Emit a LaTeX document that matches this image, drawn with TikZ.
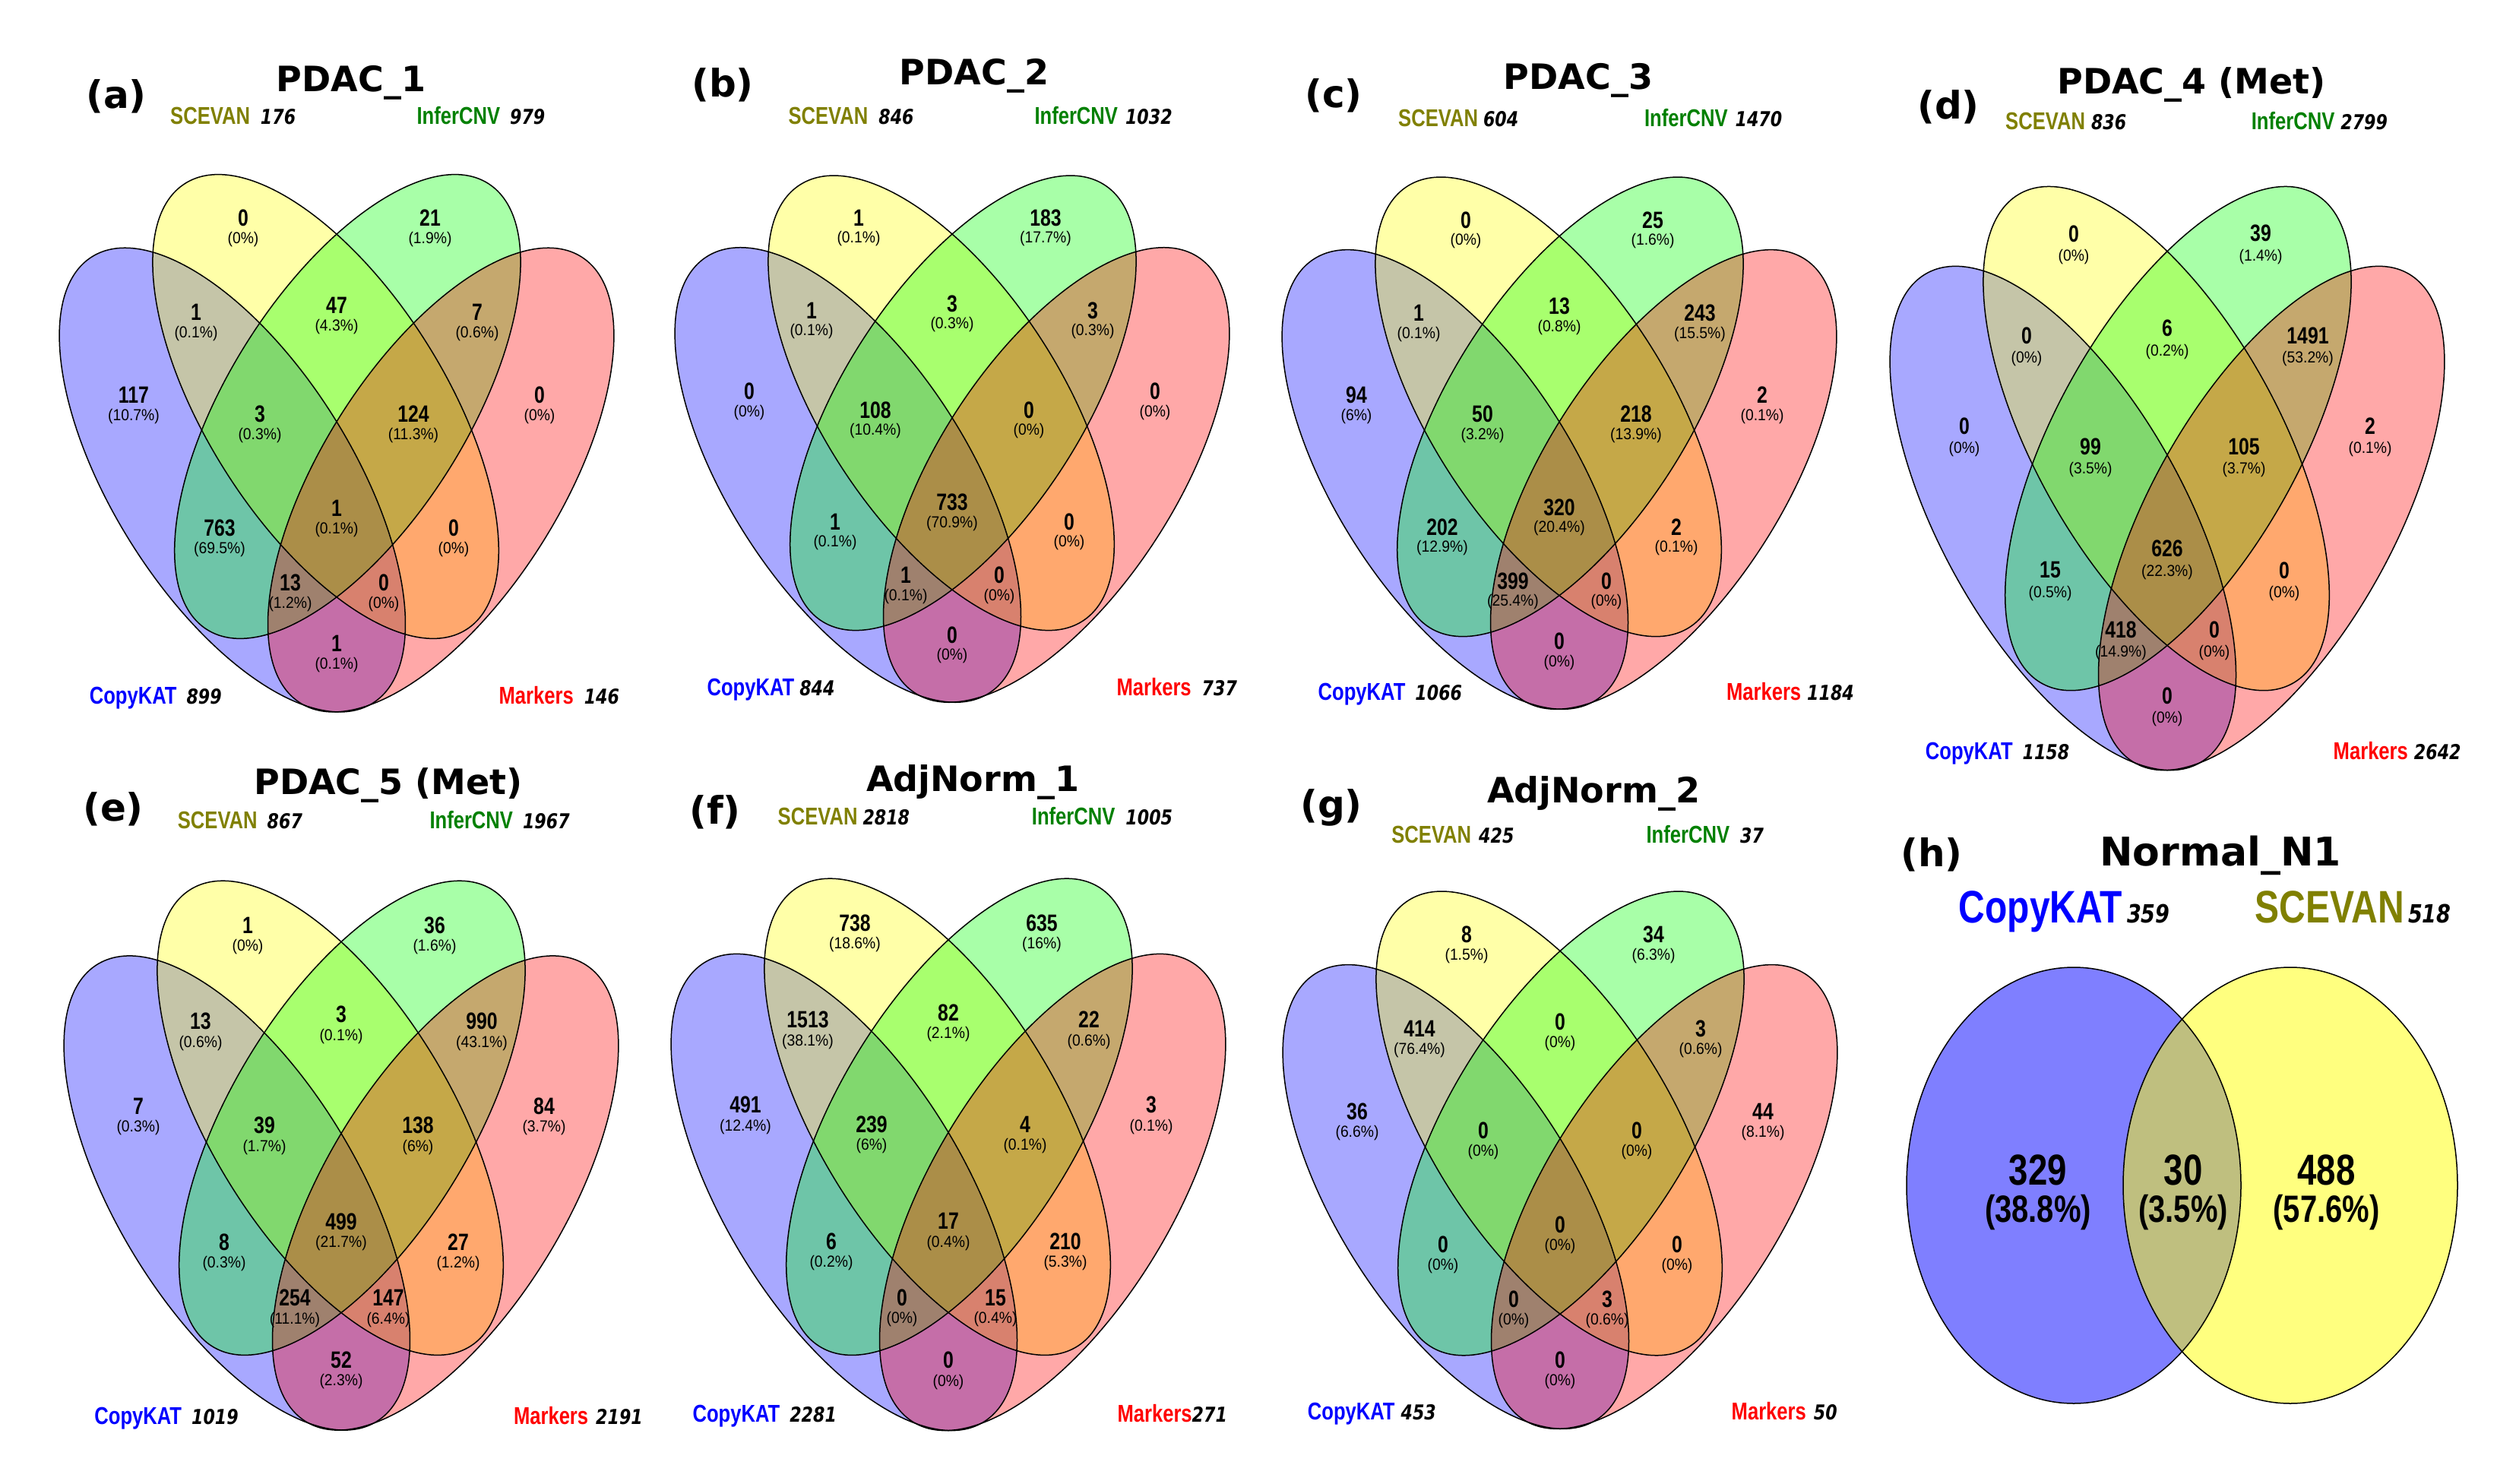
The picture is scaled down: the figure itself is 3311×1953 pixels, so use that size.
\documentclass[tikz,border=0pt]{standalone}
\usepackage{fontspec}
\setmainfont{Liberation Sans}
\newfontfamily\narrowfont[FakeStretch=0.8]{Liberation Sans}
\newfontfamily\pctfont[FakeStretch=0.92]{Liberation Sans}
\newfontfamily\dvfont{DejaVu Sans}
\newfontfamily\dvcnt[FakeStretch=0.82]{DejaVu Sans}
\definecolor{cBlue}{RGB}{0,0,255}
\definecolor{cYel}{RGB}{255,255,0}
\definecolor{cGrn}{RGB}{0,255,0}
\definecolor{cRed}{RGB}{255,0,0}
\definecolor{tOlive}{RGB}{128,128,0}
\definecolor{tGreen}{RGB}{0,128,0}
\tikzset{
  vfill/.style={fill opacity=0.34},
  vline/.style={draw=black, line width=1.5pt},
  num/.style={font=\narrowfont\bfseries\fontsize{31}{31}\selectfont, inner sep=0pt},
  pct/.style={font=\pctfont\fontsize{21}{21}\selectfont, inner sep=0pt},
  ptitle/.style={font=\dvfont\bfseries\fontsize{46}{46}\selectfont, inner sep=0pt, anchor=base},
  pletter/.style={font=\dvfont\bfseries\fontsize{50}{50}\selectfont, inner sep=0pt},
  setname/.style={font=\narrowfont\bfseries\fontsize{32}{32}\selectfont, inner sep=0pt, anchor=base west},
  bignum/.style={font=\narrowfont\bfseries\fontsize{57}{57}\selectfont, inner sep=0pt},
  bigpct/.style={font=\narrowfont\bfseries\fontsize{50}{50}\selectfont, inner sep=0pt},
  bigname/.style={font=\narrowfont\bfseries\fontsize{60}{60}\selectfont, inner sep=0pt, anchor=base west},
}
\newcommand\cnt[1]{{\dvcnt\bfseries\itshape\fontsize{27}{27}\selectfont #1}}
\newcommand\bigcnt[1]{{\dvcnt\bfseries\itshape\fontsize{33}{33}\selectfont #1}}
\newcommand\fourvenn[5]{%
\begin{scope}[shift={(#2,-#3)}, yscale=#4]
  \fill[cBlue, vfill, shift={(-137.2,0)}, rotate=-57.8] (0,0) ellipse [x radius=347, y radius=157];
  \fill[cYel, vfill, shift={(-14.4,96.6)}, rotate=-57.8] (0,0) ellipse [x radius=347, y radius=157];
  \fill[cGrn, vfill, shift={(14.4,96.6)}, rotate=57.8] (0,0) ellipse [x radius=347, y radius=157];
  \fill[cRed, vfill, shift={(137.2,0)}, rotate=57.8] (0,0) ellipse [x radius=347, y radius=157];
  \draw[vline, shift={(-137.2,0)}, rotate=-57.8] (0,0) ellipse [x radius=347, y radius=157];
  \draw[vline, shift={(-14.4,96.6)}, rotate=-57.8] (0,0) ellipse [x radius=347, y radius=157];
  \draw[vline, shift={(14.4,96.6)}, rotate=57.8] (0,0) ellipse [x radius=347, y radius=157];
  \draw[vline, shift={(137.2,0)}, rotate=57.8] (0,0) ellipse [x radius=347, y radius=157];
  \foreach \nm/\pc [count=\i] in {#5} {
    \pgfmathsetmacro\lx{{-123,123,-185,0,185,-267,267,-101,101,0,-154,154,-61,62,0}[\i-1]}
    \pgfmathsetmacro\ly{{345,345,221,230,221,112,112,87,87,-37,-63,-63,-135,-135,-215}[\i-1]}
    \node[num] (#1n\i) at (\lx,\ly) {\nm};
    \node[pct] (#1p\i) at (\lx,\ly-28) {\pc};
  }
\end{scope}}
\begin{document}
\begin{tikzpicture}[x=1pt,y=1pt]
\fill[white] (0,0) rectangle (3311,-1953);
\path[use as bounding box] (0,0) rectangle (3311,-1953);

% ---------- (a)
\fourvenn{a}{443}{631.6}{1.0}{0/(0\%),21/(1.9\%),1/(0.1\%),47/(4.3\%),7/(0.6\%),117/(10.7\%),0/(0\%),3/(0.3\%),124/(11.3\%),1/(0.1\%),763/(69.5\%),0/(0\%),13/(1.2\%),0/(0\%),1/(0.1\%)}
\node[pletter] (aL) at (153,-127) {(a)};
\node[ptitle] (aT) at (462,-121) {PDAC\_1};
\node[setname] (aS) at (224,-163.5) {\textcolor{tOlive}{SCEVAN}\hspace{14pt}\cnt{176}};
\node[setname] (aI) at (548.4,-163.5) {\textcolor{tGreen}{InferCNV}\hspace{13pt}\cnt{979}};
\node[setname] (aC) at (117.6,-926.5) {\textcolor{cBlue}{CopyKAT}\hspace{13pt}\cnt{899}};
\node[setname] (aM) at (656.4,-926.5) {\textcolor{cRed}{Markers}\hspace{14pt}\cnt{146}};

% ---------- (b)
\fourvenn{b}{1253}{625}{0.98}{1/(0.1\%),183/(17.7\%),1/(0.1\%),3/(0.3\%),3/(0.3\%),0/(0\%),0/(0\%),108/(10.4\%),0/(0\%),733/(70.9\%),1/(0.1\%),0/(0\%),1/(0.1\%),0/(0\%),0/(0\%)}
\node[pletter] (bL) at (951,-112) {(b)};
\node[ptitle] (bT) at (1282,-112) {PDAC\_2};
\node[setname] (bS) at (1037.4,-163.5) {\textcolor{tOlive}{SCEVAN}\hspace{14pt}\cnt{846}};
\node[setname] (bI) at (1361.3,-163.5) {\textcolor{tGreen}{InferCNV}\hspace{10pt}\cnt{1032}};
\node[setname] (bC) at (930.4,-915.5) {\textcolor{cBlue}{CopyKAT}\hspace{7pt}\cnt{844}};
\node[setname] (bM) at (1469.3,-915.5) {\textcolor{cRed}{Markers}\hspace{14pt}\cnt{737}};

% ---------- (c)
\fourvenn{c}{2052}{631}{0.99}{0/(0\%),25/(1.6\%),1/(0.1\%),13/(0.8\%),243/(15.5\%),94/(6\%),2/(0.1\%),50/(3.2\%),218/(13.9\%),320/(20.4\%),202/(12.9\%),2/(0.1\%),399/(25.4\%),0/(0\%),0/(0\%)}
\node[pletter] (cL) at (1755,-126) {(c)};
\node[ptitle] (cT) at (2077,-118) {PDAC\_3};
\node[setname] (cS) at (1840,-166.2) {\textcolor{tOlive}{SCEVAN}\hspace{7pt}\cnt{604}};
\node[setname] (cI) at (2163.9,-166.2) {\textcolor{tGreen}{InferCNV}\hspace{10pt}\cnt{1470}};
\node[setname] (cC) at (1734.5,-921.5) {\textcolor{cBlue}{CopyKAT}\hspace{13pt}\cnt{1066}};
\node[setname] (cM) at (2271.8,-921.5) {\textcolor{cRed}{Markers}\hspace{8pt}\cnt{1184}};

% ---------- (d)
\fourvenn{d}{2852}{682}{1.086}{0/(0\%),39/(1.4\%),0/(0\%),6/(0.2\%),1491/(53.2\%),0/(0\%),2/(0.1\%),99/(3.5\%),105/(3.7\%),626/(22.3\%),15/(0.5\%),0/(0\%),418/(14.9\%),0/(0\%),0/(0\%)}
\node[pletter] (dL) at (2564,-141) {(d)};
\node[ptitle] (dT) at (2884,-124) {PDAC\_4 (Met)};
\node[setname] (dS) at (2639,-171) {\textcolor{tOlive}{SCEVAN}\hspace{8pt}\cnt{836}};
\node[setname] (dI) at (2962.6,-171) {\textcolor{tGreen}{InferCNV}\hspace{8pt}\cnt{2799}};
\node[setname] (dC) at (2533.7,-999) {\textcolor{cBlue}{CopyKAT}\hspace{13pt}\cnt{1158}};
\node[setname] (dM) at (3070.5,-999) {\textcolor{cRed}{Markers}\hspace{8pt}\cnt{2642}};

% ---------- (e)
\fourvenn{e}{449}{1570}{1.022}{1/(0\%),36/(1.6\%),13/(0.6\%),3/(0.1\%),990/(43.1\%),7/(0.3\%),84/(3.7\%),39/(1.7\%),138/(6\%),499/(21.7\%),8/(0.3\%),27/(1.2\%),254/(11.1\%),147/(6.4\%),52/(2.3\%)}
\node[pletter] (eL) at (149,-1065) {(e)};
\node[ptitle] (eT) at (511,-1045) {PDAC\_5 (Met)};
\node[setname] (eS) at (233.7,-1090) {\textcolor{tOlive}{SCEVAN}\hspace{13pt}\cnt{867}};
\node[setname] (eI) at (565.3,-1090) {\textcolor{tGreen}{InferCNV}\hspace{13pt}\cnt{1967}};
\node[setname] (eC) at (124.2,-1874.5) {\textcolor{cBlue}{CopyKAT}\hspace{13pt}\cnt{1019}};
\node[setname] (eM) at (675.8,-1874.5) {\textcolor{cRed}{Markers}\hspace{10pt}\cnt{2191}};

% ---------- (f)
\fourvenn{f}{1248}{1569}{1.027}{738/(18.6\%),635/(16\%),1513/(38.1\%),82/(2.1\%),22/(0.6\%),491/(12.4\%),3/(0.1\%),239/(6\%),4/(0.1\%),17/(0.4\%),6/(0.2\%),210/(5.3\%),0/(0\%),15/(0.4\%),0/(0\%)}
\node[pletter] (fL) at (941,-1069) {(f)};
\node[ptitle] (fT) at (1280,-1041) {AdjNorm\_1};
\node[setname] (fS) at (1023.5,-1085.5) {\textcolor{tOlive}{SCEVAN}\hspace{7pt}\cnt{2818}};
\node[setname] (fI) at (1357.7,-1085.5) {\textcolor{tGreen}{InferCNV}\hspace{14pt}\cnt{1005}};
\node[setname] (fC) at (911.4,-1871.5) {\textcolor{cBlue}{CopyKAT}\hspace{13pt}\cnt{2281}};
\node[setname] (fM) at (1470.3,-1871.5) {\textcolor{cRed}{Markers}\cnt{271}};

% ---------- (g)
\fourvenn{g}{2053}{1575}{1.0}{8/(1.5\%),34/(6.3\%),414/(76.4\%),0/(0\%),3/(0.6\%),36/(6.6\%),44/(8.1\%),0/(0\%),0/(0\%),0/(0\%),0/(0\%),0/(0\%),0/(0\%),3/(0.6\%),0/(0\%)}
\node[pletter] (gL) at (1752,-1063) {(g)};
\node[ptitle] (gT) at (2097,-1056) {AdjNorm\_2};
\node[setname] (gS) at (1831.2,-1109) {\textcolor{tOlive}{SCEVAN}\hspace{10pt}\cnt{425}};
\node[setname] (gI) at (2166.4,-1109) {\textcolor{tGreen}{InferCNV}\hspace{14pt}\cnt{37}};
\node[setname] (gC) at (1720.7,-1868.5) {\textcolor{cBlue}{CopyKAT}\hspace{8pt}\cnt{453}};
\node[setname] (gM) at (2278.5,-1868.5) {\textcolor{cRed}{Markers}\hspace{10pt}\cnt{50}};

% ---------- (h)
\fill[cBlue, fill opacity=0.5] (2729,-1560) ellipse [x radius=220, y radius=287];
\fill[cYel, fill opacity=0.5] (3014,-1560) ellipse [x radius=220, y radius=287];
\draw[vline] (2729,-1560) ellipse [x radius=220, y radius=287];
\draw[vline] (3014,-1560) ellipse [x radius=220, y radius=287];
\node[pletter] (hL) at (2542,-1125) {(h)};
\node[ptitle, font=\dvfont\bfseries\fontsize{52}{52}\selectfont] (hT) at (2922,-1139) {Normal\_N1};
\node[bigname] (hC) at (2577.7,-1214.5) {\textcolor{cBlue}{CopyKAT}\hspace{6pt}\bigcnt{359}};
\node[bigname] (hS) at (2967.3,-1214.5) {\textcolor{tOlive}{SCEVAN}\hspace{5pt}\bigcnt{518}};
\node[bignum] (hn1) at (2682,-1540) {329};
\node[bigpct] (hp1) at (2682,-1596) {(38.8\%)};
\node[bignum] (hn2) at (2873,-1540) {30};
\node[bigpct] (hp2) at (2873,-1596) {(3.5\%)};
\node[bignum] (hn3) at (3061.5,-1540) {488};
\node[bigpct] (hp3) at (3061.5,-1596) {(57.6\%)};
\end{tikzpicture}
\end{document}
